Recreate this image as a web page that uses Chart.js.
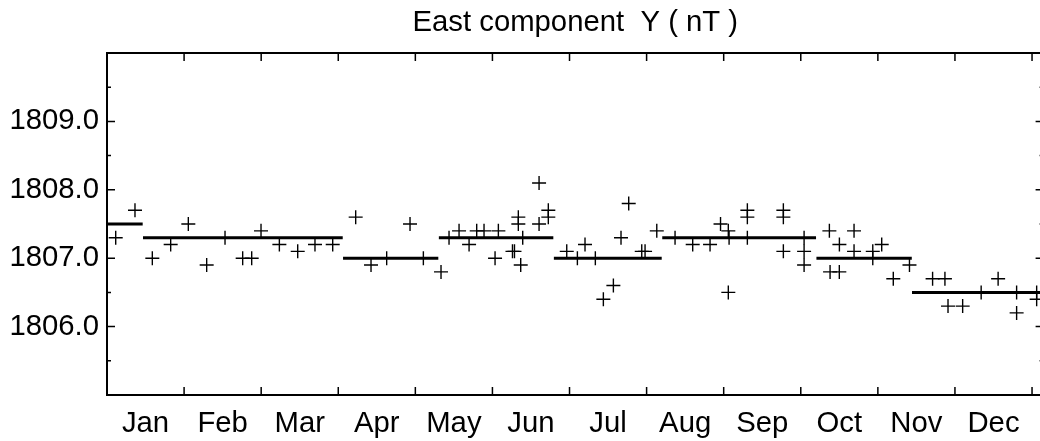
<!DOCTYPE html>
<html><head><meta charset="utf-8">
<script src="https://cdn.jsdelivr.net/npm/chart.js@4/dist/chart.umd.min.js"></script>
<style>
html,body{margin:0;padding:0;background:#fff;overflow:hidden;width:1040px;height:441px}
#wrap{position:relative;width:1040px;height:441px;overflow:hidden}
#c{position:absolute;left:0;top:0}
</style>
</head><body><div id="wrap"><canvas id="c" width="1052" height="441"></canvas></div>
<script>
const chartTitle = 'East component  Y ( nT )';
const monthLabels = ['Jan','Feb','Mar','Apr','May','Jun','Jul','Aug','Sep','Oct','Nov','Dec'];
const yTickValues = [1806, 1807, 1808, 1809];
const yMin = 1805, yMax = 1810;
const xMax = 12.15;

// individual observations: position in months from 1 Jan, value in nT
const obsMonth = [
  0.113, 0.363, 0.588, 0.826, 1.055, 1.293, 1.531, 1.760, 1.877, 1.998, 2.236, 2.474, 2.698, 2.928,
  3.226, 3.425, 3.628, 3.931, 4.104, 4.333,
  4.437, 4.567, 4.697, 4.796, 4.891, 5.034, 5.077, 5.260, 5.286, 5.336, 5.336, 5.367, 5.393, 5.605, 5.605, 5.725, 5.725,
  5.964, 6.102, 6.201, 6.335, 6.439, 6.569, 6.668, 6.768, 6.937, 6.980, 7.132,
  7.369, 7.598, 7.823, 7.959, 8.060, 8.070, 8.060, 8.307, 8.307, 8.307, 8.774, 8.774, 8.774, 9.043, 9.043, 9.043,
  9.371, 9.380, 9.501, 9.500, 9.691, 9.691, 9.934, 9.934, 10.050, 10.200, 10.410,
  10.710, 10.870, 10.910, 11.100, 11.340, 11.560, 11.800, 11.800, 12.060, 12.060
];
const obsValue = [
  1807.3, 1807.7, 1807.0, 1807.2, 1807.5, 1806.9, 1807.3, 1807.0, 1807.0, 1807.4, 1807.2, 1807.1, 1807.2, 1807.2,
  1807.6, 1806.9, 1807.0, 1807.5, 1807.0, 1806.8,
  1807.3, 1807.4, 1807.2, 1807.4, 1807.4, 1807.0, 1807.4, 1807.1, 1807.1, 1807.6, 1807.5, 1806.9, 1807.3, 1808.1, 1807.5, 1807.7, 1807.6,
  1807.1, 1807.0, 1807.2, 1807.0, 1806.4, 1806.6, 1807.3, 1807.8, 1807.1, 1807.1, 1807.4,
  1807.3, 1807.2, 1807.2, 1807.5, 1807.4, 1807.3, 1806.5, 1807.7, 1807.6, 1807.3, 1807.7, 1807.6, 1807.1, 1807.3, 1807.1, 1806.9,
  1807.4, 1806.8, 1807.2, 1806.8, 1807.4, 1807.1, 1807.1, 1807.0, 1807.2, 1806.7, 1806.9,
  1806.7, 1806.7, 1806.3, 1806.3, 1806.5, 1806.7, 1806.5, 1806.2, 1806.5, 1806.4
];

// mean levels (step segments)
const segStart = [0.000, 0.467, 3.062, 4.305, 5.797, 7.203, 9.203, 10.443];
const segEnd   = [0.463, 3.058, 4.298, 5.790, 7.196, 9.198, 10.440, 12.300];
const segValue = [1807.5, 1807.3, 1807.0, 1807.3, 1807.0, 1807.3, 1807.0, 1806.5];

const FONT = '"Liberation Sans", Arial, Helvetica, sans-serif';
const FSIZE = 29.3;

const obsData = obsMonth.map((m, i) => ({x: m, y: obsValue[i]}));
const segData = [];
segStart.forEach((s, i) => {
  segData.push({x: s, y: segValue[i]});
  segData.push({x: segEnd[i], y: segValue[i]});
  segData.push({x: (segEnd[i] + (segStart[i + 1] ?? segEnd[i])) / 2, y: null});
});

const framePlugin = {
  id: 'frame',
  afterDraw(chart) {
    const {ctx, chartArea: a, scales: {x, y}} = chart;
    ctx.save();
    ctx.strokeStyle = '#000';
    ctx.lineWidth = 2;
    ctx.strokeRect(a.left, a.top, a.right - a.left, a.bottom - a.top);
    ctx.lineWidth = 1.5;
    ctx.beginPath();
    for (let m = 1; m <= 12; m++) {
      const px = x.getPixelForValue(m);
      ctx.moveTo(px, a.top); ctx.lineTo(px, a.top + 8);
      ctx.moveTo(px, a.bottom); ctx.lineTo(px, a.bottom - 8);
    }
    for (let k = 1; k < (yMax - yMin) * 2; k++) {
      const v = yMin + k * 0.5;
      const py = y.getPixelForValue(v);
      const len = (k % 2 === 0) ? 8 : 4;
      ctx.moveTo(a.left, py); ctx.lineTo(a.left + len, py);
      ctx.moveTo(a.right, py); ctx.lineTo(a.right - len, py);
    }
    ctx.stroke();
    ctx.fillStyle = '#000';
    ctx.font = FSIZE + 'px ' + FONT;
    ctx.textAlign = 'center';
    ctx.textBaseline = 'alphabetic';
    ctx.fillText(chartTitle, (a.left + a.right) / 2, 31);
    ctx.restore();
  }
};

new Chart(document.getElementById('c'), {
  type: 'scatter',
  data: {
    datasets: [
      {
        type: 'line',
        data: segData,
        borderColor: '#000',
        borderWidth: 3,
        pointRadius: 0,
        spanGaps: false,
        fill: false,
        tension: 0
      },
      {
        data: obsData,
        pointStyle: 'cross',
        pointRadius: 7,
        pointBorderWidth: 1.4,
        borderColor: '#000',
        backgroundColor: '#000'
      }
    ]
  },
  options: {
    responsive: false,
    animation: false,
    events: [],
    layout: {padding: {left: 0, right: 0, top: 53, bottom: 0}},
    plugins: {legend: {display: false}, tooltip: {enabled: false}, title: {display: false}},
    scales: {
      x: {
        type: 'linear',
        min: 0,
        max: xMax,
        grid: {display: false, drawTicks: false},
        border: {display: false},
        afterBuildTicks: s => { s.ticks = monthLabels.map((_, i) => ({value: i + 0.5})); },
        afterFit: s => { s.height = 46; s.paddingLeft = 0; s.paddingRight = 0; },
        ticks: {
          autoSkip: false,
          maxRotation: 0,
          padding: 11,
          color: '#000',
          font: {family: FONT, size: FSIZE},
          callback: (v, i) => monthLabels[i]
        }
      },
      y: {
        type: 'linear',
        min: yMin,
        max: yMax,
        grid: {display: false, drawTicks: false},
        border: {display: false},
        afterBuildTicks: s => { s.ticks = yTickValues.map(v => ({value: v})); },
        afterFit: s => { s.width = 107; s.paddingTop = 0; s.paddingBottom = 0; },
        ticks: {
          padding: 8,
          color: '#000',
          font: {family: FONT, size: FSIZE},
          callback: v => Number(v).toFixed(1)
        }
      }
    }
  },
  plugins: [framePlugin]
});
</script>
</body></html>
